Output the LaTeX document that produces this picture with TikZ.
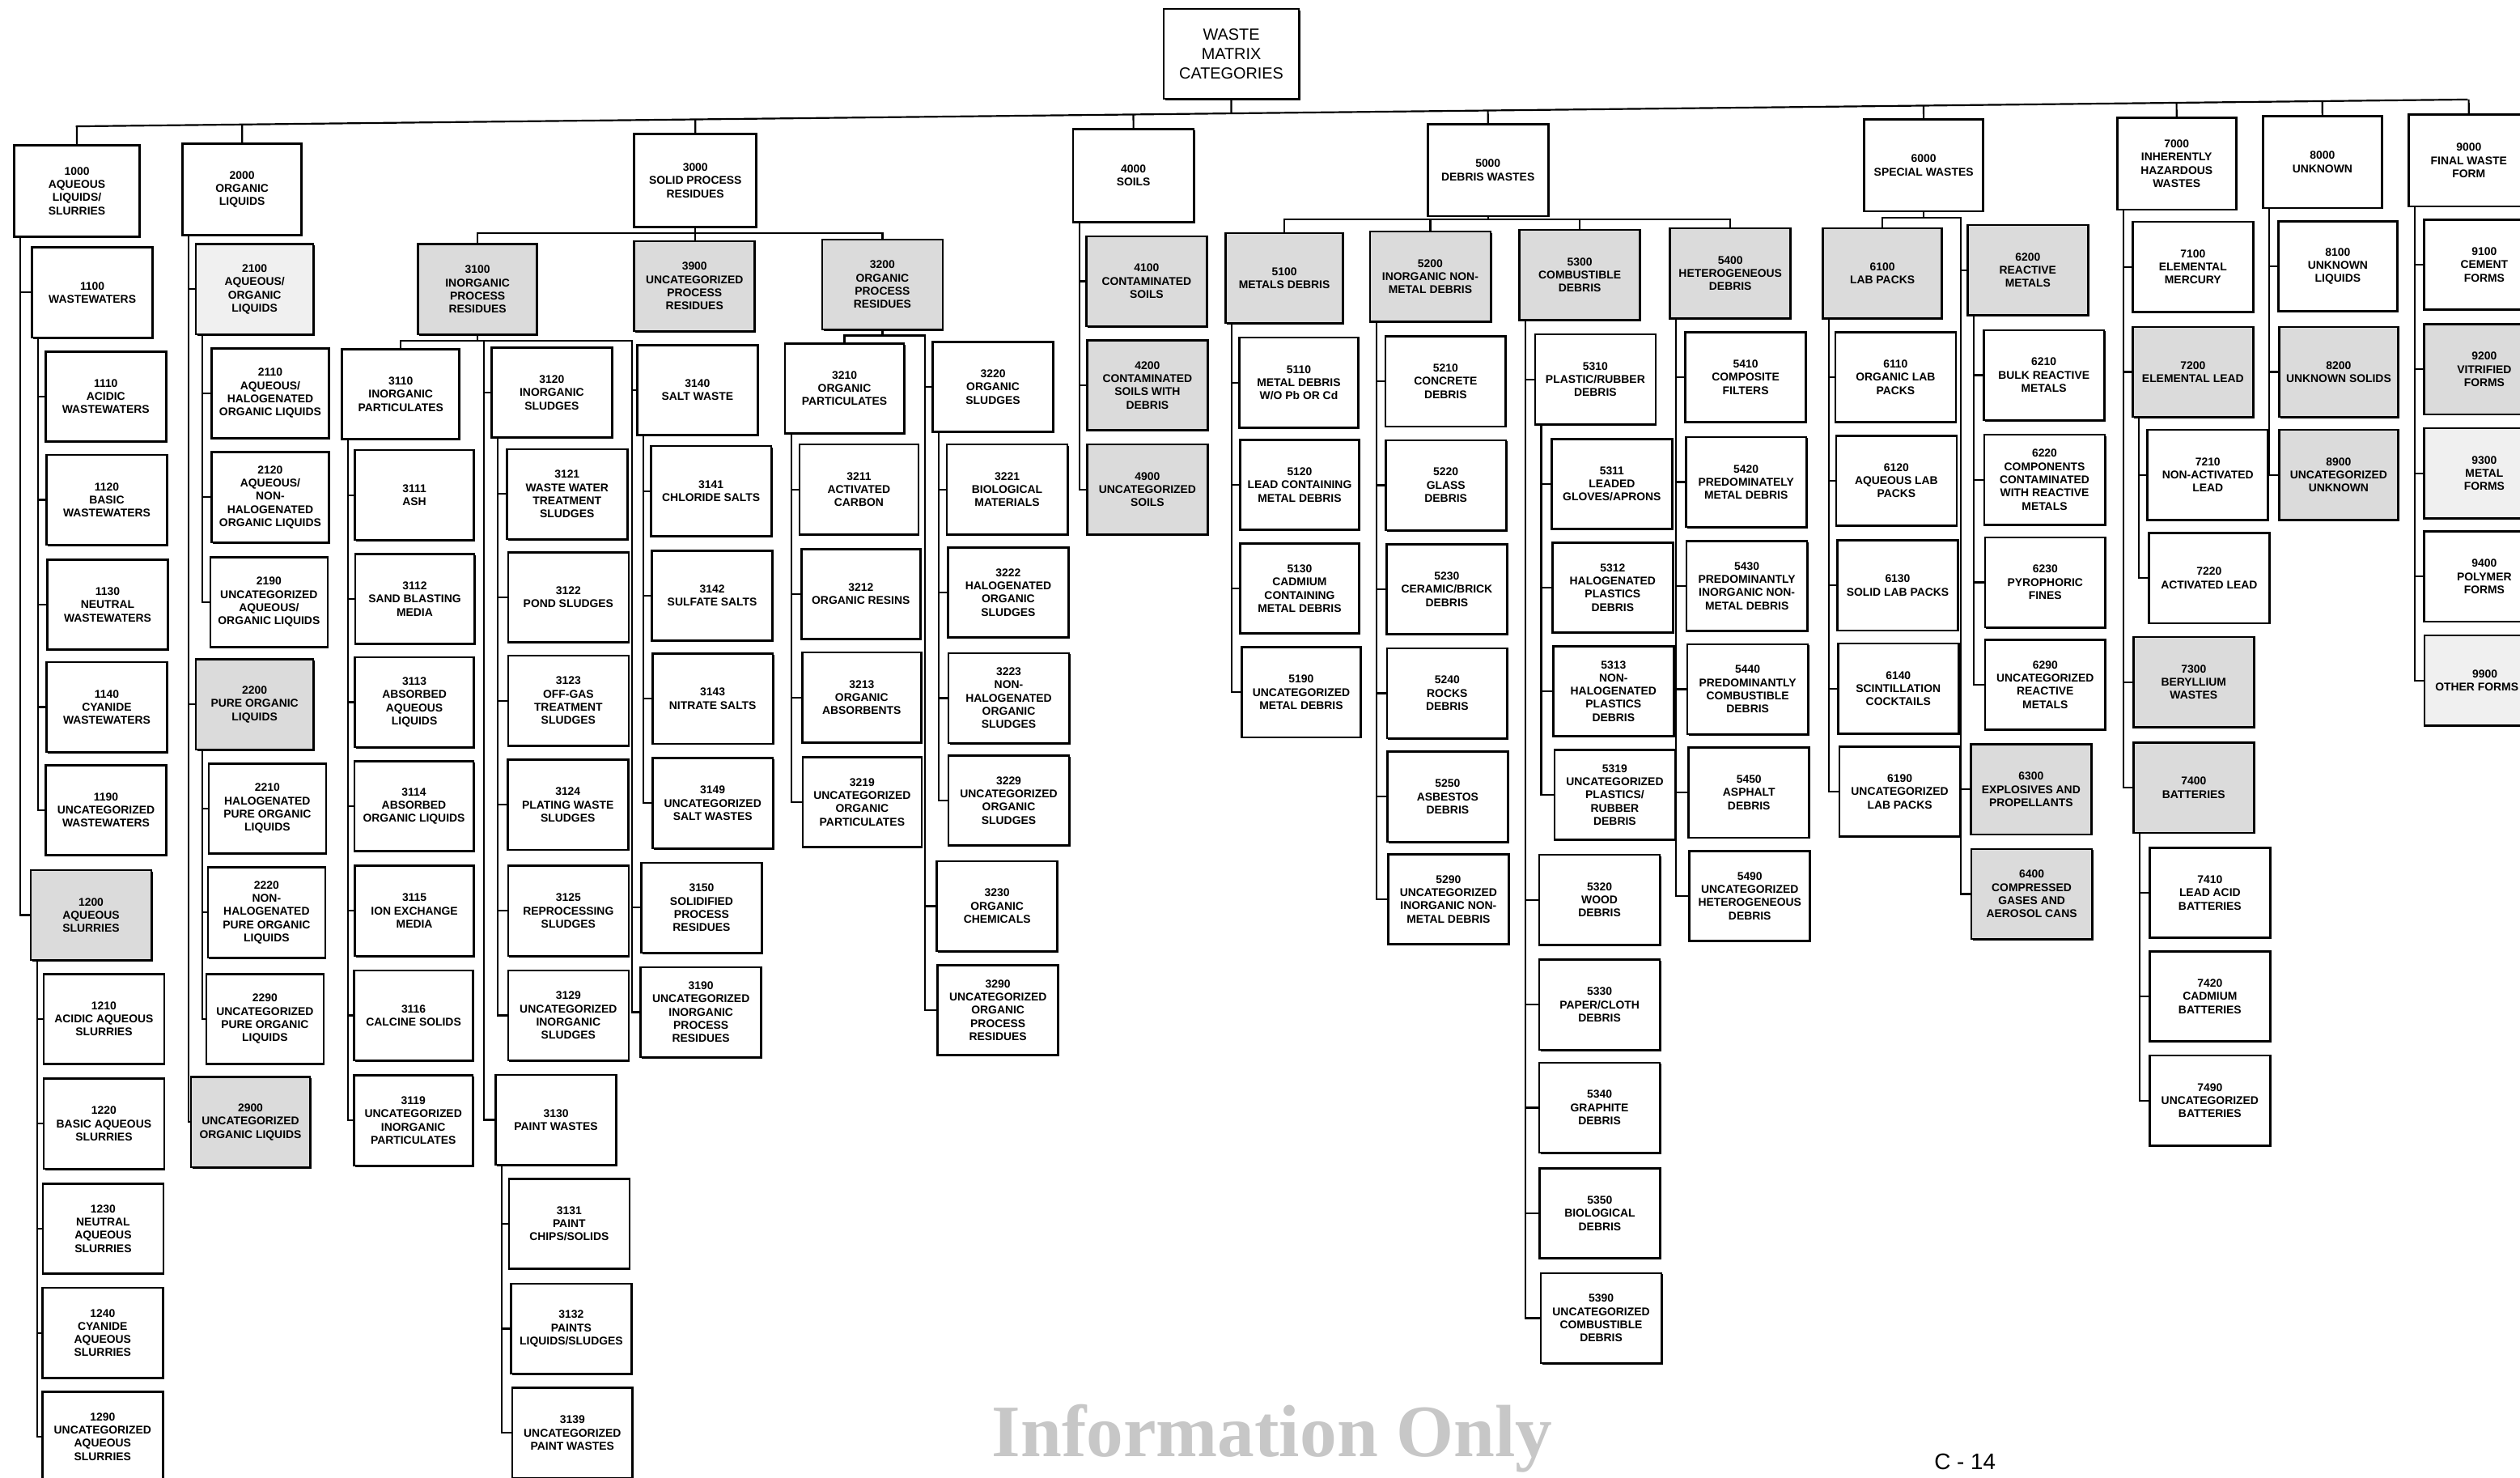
\documentclass[tikz,border=0pt]{standalone}
\usepackage{fontspec}
\setmainfont{Liberation Sans}
\newfontfamily\wmfont{Liberation Serif}
\usetikzlibrary{shadows}
\newcommand\boxfont{\fontsize{7}{8.2}\selectfont\bfseries}
\newcommand\SpineLink[2]{\draw[conn] ([xshift=4.5pt]n#1.south west) |- (n#2.west);}
\newcommand\TopDrop[1]{\draw[conn] (n#1.north) -- (intersection of n#1.north--n#1.south and busL--busR);}
\begin{document}
\begin{tikzpicture}[x=1pt,y=-1pt,
  box/.style={draw, line width=1.3pt, fill=white, minimum width=75pt, minimum height=56pt,
    inner sep=1pt, align=center, font=\boxfont, anchor=north west,
    drop shadow={shadow xshift=0.8pt, shadow yshift=-0.8pt, fill=black, opacity=1}},
  sbox/.style={box, fill=black!14},
  lbox/.style={box, fill=black!6},
  topbox/.style={box, minimum height=57pt},
  conn/.style={line width=1.1pt}]
\useasboundingbox (0,0) rectangle (1568,919);
\fill[white] (0,0) rectangle (1568,919);

% ---------- title ----------
\node[box, minimum width=84pt, minimum height=56pt, font=\fontsize{10}{12}\selectfont, line width=1.1pt] (ntitle) at (723.6,5) {WASTE\\MATRIX\\CATEGORIES};

% ---------- top level ----------
\node[topbox, minimum width=78pt] (n1000) at (8.2,89.6) {1000\\AQUEOUS\\LIQUIDS/\\SLURRIES};
\node[topbox, minimum width=74pt] (n2000) at (113,88.6) {2000\\ORGANIC\\LIQUIDS};
\node[topbox, minimum width=76pt, minimum height=58pt] (n3000) at (394,82.6) {3000\\SOLID PROCESS\\RESIDUES};
\node[topbox, minimum height=58pt] (n4000) at (667.1,79.6) {4000\\SOILS};
\node[topbox] (n5000) at (887.7,76.7) {5000\\DEBRIS WASTES};
\node[topbox, minimum width=74pt] (n6000) at (1159.3,73.7) {6000\\SPECIAL WASTES};
\node[topbox, minimum width=74pt] (n7000) at (1316.7,72.7) {7000\\INHERENTLY\\HAZARDOUS\\WASTES};
\node[topbox, minimum width=74pt] (n8000) at (1407.4,71.7) {8000\\UNKNOWN};
\node[topbox] (n9000) at (1498,70.7) {9000\\FINAL WASTE\\FORM};

% ---------- 1000 ----------
\node[box] (n1100) at (19.3,153.3) {1100\\WASTEWATERS};
\node[box] (n1110) at (27.7,218) {1110\\ACIDIC\\WASTEWATERS};
\node[box] (n1120) at (28.3,282.3) {1120\\BASIC\\WASTEWATERS};
\node[box] (n1130) at (28.8,347.5) {1130\\NEUTRAL\\WASTEWATERS};
\node[box] (n1140) at (28.3,411.2) {1140\\CYANIDE\\WASTEWATERS};
\node[box] (n1190) at (27.8,475.3) {1190\\UNCATEGORIZED\\WASTEWATERS};
\node[sbox] (n1200) at (18.5,540.6) {1200\\AQUEOUS\\SLURRIES};
\node[box] (n1210) at (26.5,605.2) {1210\\ACIDIC AQUEOUS\\SLURRIES};
\node[box] (n1220) at (26.5,670.4) {1220\\BASIC AQUEOUS\\SLURRIES};
\node[box] (n1230) at (26,735.7) {1230\\NEUTRAL\\AQUEOUS\\SLURRIES};
\node[box] (n1240) at (25.7,800.5) {1240\\CYANIDE\\AQUEOUS\\SLURRIES};
\node[box] (n1290) at (25.7,865.1) {1290\\UNCATEGORIZED\\AQUEOUS\\SLURRIES};

% ---------- 2000 ----------
\node[lbox, minimum width=73pt] (n2100) at (121.3,151.3) {2100\\AQUEOUS/\\ORGANIC\\LIQUIDS};
\node[box, minimum width=73pt] (n2110) at (131,216) {2110\\AQUEOUS/\\HALOGENATED\\ORGANIC LIQUIDS};
\node[box, minimum width=73pt] (n2120) at (131,280.7) {2120\\AQUEOUS/\\NON-\\HALOGENATED\\ORGANIC LIQUIDS};
\node[box, minimum width=73pt] (n2190) at (130.2,345.9) {2190\\UNCATEGORIZED\\AQUEOUS/\\ORGANIC LIQUIDS};
\node[sbox, minimum width=73pt] (n2200) at (121.3,409.6) {2200\\PURE ORGANIC\\LIQUIDS};
\node[box, minimum width=73pt] (n2210) at (129.2,474.3) {2210\\HALOGENATED\\PURE ORGANIC\\LIQUIDS};
\node[box, minimum width=73pt] (n2220) at (128.7,539) {2220\\NON-\\HALOGENATED\\PURE ORGANIC\\LIQUIDS};
\node[box, minimum width=73pt] (n2290) at (127.7,605.2) {2290\\UNCATEGORIZED\\PURE ORGANIC\\LIQUIDS};
\node[sbox, minimum width=74pt] (n2900) at (118.2,669.4) {2900\\UNCATEGORIZED\\ORGANIC LIQUIDS};

% ---------- 3100 ----------
\node[sbox, minimum width=74pt] (n3100) at (259.5,151.3) {3100\\INORGANIC\\PROCESS\\RESIDUES};
\node[box, minimum width=73pt] (n3110) at (212.2,216.6) {3110\\INORGANIC\\PARTICULATES};
\node[box, minimum width=74pt] (n3111) at (220.2,279.3) {3111\\ASH};
\node[box, minimum width=74pt] (n3112) at (220.4,343.9) {3112\\SAND BLASTING\\MEDIA};
\node[box, minimum width=74pt] (n3113) at (220.2,408.2) {3113\\ABSORBED\\AQUEOUS\\LIQUIDS};
\node[box, minimum width=74pt] (n3114) at (219.9,472.9) {3114\\ABSORBED\\ORGANIC LIQUIDS};
\node[box, minimum width=74pt] (n3115) at (220.2,538) {3115\\ION EXCHANGE\\MEDIA};
\node[box, minimum width=74pt] (n3116) at (219.7,603) {3116\\CALCINE SOLIDS};
\node[box, minimum width=74pt] (n3119) at (219.5,668.4) {3119\\UNCATEGORIZED\\INORGANIC\\PARTICULATES};
\node[box] (n3120) at (305.2,215.6) {3120\\INORGANIC\\SLUDGES};
\node[box] (n3121) at (314.7,278.7) {3121\\WASTE WATER\\TREATMENT\\SLUDGES};
\node[box] (n3122) at (315.5,342.9) {3122\\POND SLUDGES};
\node[box] (n3123) at (315.5,407.2) {3123\\OFF-GAS\\TREATMENT\\SLUDGES};
\node[box] (n3124) at (315.2,472) {3124\\PLATING WASTE\\SLUDGES};
\node[box] (n3125) at (315.5,538) {3125\\REPROCESSING\\SLUDGES};
\node[box] (n3129) at (315.5,603) {3129\\UNCATEGORIZED\\INORGANIC\\SLUDGES};
\node[box] (n3130) at (307.8,668) {3130\\PAINT WASTES};
\node[box] (n3131) at (316,732.6) {3131\\PAINT\\CHIPS/SOLIDS};
\node[box] (n3132) at (317.3,797.9) {3132\\PAINTS\\LIQUIDS/SLUDGES};
\node[box] (n3139) at (318,862.7) {3139\\UNCATEGORIZED\\PAINT WASTES};

% ---------- 3900 / 3140 ----------
\node[sbox] (n3900) at (394,149.3) {3900\\UNCATEGORIZED\\PROCESS\\RESIDUES};
\node[box] (n3140) at (395.8,214) {3140\\SALT WASTE};
\node[box] (n3141) at (404.3,276.8) {3141\\CHLORIDE SALTS};
\node[box] (n3142) at (405,341.9) {3142\\SULFATE SALTS};
\node[box] (n3143) at (405.3,406) {3143\\NITRATE SALTS};
\node[box] (n3149) at (405.3,471) {3149\\UNCATEGORIZED\\SALT WASTES};
\node[box] (n3150) at (398.4,536) {3150\\SOLIDIFIED\\PROCESS\\RESIDUES};
\node[box] (n3190) at (398,601) {3190\\UNCATEGORIZED\\INORGANIC\\PROCESS\\RESIDUES};

% ---------- 3200 ----------
\node[sbox] (n3200) at (510.9,148.3) {3200\\ORGANIC\\PROCESS\\RESIDUES};
\node[box, minimum width=74pt] (n3210) at (487.8,213) {3210\\ORGANIC\\PARTICULATES};
\node[box, minimum width=74pt] (n3211) at (496.8,275.8) {3211\\ACTIVATED\\CARBON};
\node[box, minimum width=74pt] (n3212) at (498,340.9) {3212\\ORGANIC RESINS};
\node[box, minimum width=74pt] (n3213) at (498.5,405.2) {3213\\ORGANIC\\ABSORBENTS};
\node[box, minimum width=74pt] (n3219) at (498.8,470.3) {3219\\UNCATEGORIZED\\ORGANIC\\PARTICULATES};
\node[box] (n3220) at (579.7,212) {3220\\ORGANIC\\SLUDGES};
\node[box] (n3221) at (588.5,275.8) {3221\\BIOLOGICAL\\MATERIALS};
\node[box] (n3222) at (589.2,339.9) {3222\\HALOGENATED\\ORGANIC\\SLUDGES};
\node[box] (n3223) at (589.5,405.6) {3223\\NON-\\HALOGENATED\\ORGANIC\\SLUDGES};
\node[box] (n3229) at (589.5,469.3) {3229\\UNCATEGORIZED\\ORGANIC\\SLUDGES};
\node[box] (n3230) at (582.3,535) {3230\\ORGANIC\\CHEMICALS};
\node[box] (n3290) at (582.8,599.8) {3290\\UNCATEGORIZED\\ORGANIC\\PROCESS\\RESIDUES};

% ---------- 4000 ----------
\node[sbox] (n4100) at (675.3,146.3) {4100\\CONTAMINATED\\SOILS};
\node[sbox] (n4200) at (675.8,211) {4200\\CONTAMINATED\\SOILS WITH\\DEBRIS};
\node[sbox] (n4900) at (675.8,275.8) {4900\\UNCATEGORIZED\\SOILS};

% ---------- 5000 ----------
\node[sbox, minimum width=73pt] (n5100) at (762,144.3) {5100\\METALS DEBRIS};
\node[box, minimum width=74pt] (n5110) at (770.5,209.4) {5110\\METAL DEBRIS\\W/O Pb OR Cd};
\node[box, minimum width=74pt] (n5120) at (771,273) {5120\\LEAD CONTAINING\\METAL DEBRIS};
\node[box, minimum width=74pt] (n5130) at (771,337.5) {5130\\CADMIUM\\CONTAINING\\METAL DEBRIS};
\node[box, minimum width=74pt] (n5190) at (772,402) {5190\\UNCATEGORIZED\\METAL DEBRIS};
\node[sbox] (n5200) at (851.8,143.4) {5200\\INORGANIC NON-\\METAL DEBRIS};
\node[box] (n5210) at (861.3,208.6) {5210\\CONCRETE\\DEBRIS};
\node[box] (n5220) at (861.5,273.2) {5220\\GLASS\\DEBRIS};
\node[box] (n5230) at (862.1,337.9) {5230\\CERAMIC/BRICK\\DEBRIS};
\node[box] (n5240) at (862.3,402.6) {5240\\ROCKS\\DEBRIS};
\node[box] (n5250) at (862.6,467) {5250\\ASBESTOS\\DEBRIS};
\node[box] (n5290) at (863.1,530.7) {5290\\UNCATEGORIZED\\INORGANIC NON-\\METAL DEBRIS};
\node[sbox] (n5300) at (944.8,142.4) {5300\\COMBUSTIBLE\\DEBRIS};
\node[box] (n5310) at (954.5,207.4) {5310\\PLASTIC/RUBBER\\DEBRIS};
\node[box] (n5311) at (964.8,272.4) {5311\\LEADED\\GLOVES/APRONS};
\node[box] (n5312) at (965.3,336.9) {5312\\HALOGENATED\\PLASTICS\\DEBRIS};
\node[box] (n5313) at (965.8,401.3) {5313\\NON-\\HALOGENATED\\PLASTICS\\DEBRIS};
\node[box] (n5319) at (966.6,465.8) {5319\\UNCATEGORIZED\\PLASTICS/\\RUBBER\\DEBRIS};
\node[box] (n5320) at (957.1,531.1) {5320\\WOOD\\DEBRIS};
\node[box] (n5330) at (957.1,596.4) {5330\\PAPER/CLOTH\\DEBRIS};
\node[box] (n5340) at (957.1,660.4) {5340\\GRAPHITE\\DEBRIS};
\node[box] (n5350) at (957.3,726.2) {5350\\BIOLOGICAL\\DEBRIS};
\node[box] (n5390) at (958.1,791.3) {5390\\UNCATEGORIZED\\COMBUSTIBLE\\DEBRIS};
\node[sbox] (n5400) at (1038.5,141.4) {5400\\HETEROGENEOUS\\DEBRIS};
\node[box] (n5410) at (1048,206) {5410\\COMPOSITE\\FILTERS};
\node[box] (n5420) at (1048.3,271.2) {5420\\PREDOMINATELY\\METAL DEBRIS};
\node[box] (n5430) at (1048.8,335.9) {5430\\PREDOMINANTLY\\INORGANIC NON-\\METAL DEBRIS};
\node[box] (n5440) at (1049.3,400.1) {5440\\PREDOMINANTLY\\COMBUSTIBLE\\DEBRIS};
\node[box] (n5450) at (1050.1,464.4) {5450\\ASPHALT\\DEBRIS};
\node[box] (n5490) at (1050.6,528.7) {5490\\UNCATEGORIZED\\HETEROGENEOUS\\DEBRIS};

% ---------- 6000 ----------
\node[sbox, minimum width=74pt] (n6100) at (1133.6,141.4) {6100\\LAB PACKS};
\node[box] (n6110) at (1141.3,206) {6110\\ORGANIC LAB\\PACKS};
\node[box] (n6120) at (1141.8,270.4) {6120\\AQUEOUS LAB\\PACKS};
\node[box] (n6130) at (1142.6,335.5) {6130\\SOLID LAB PACKS};
\node[box] (n6140) at (1143,399.7) {6140\\SCINTILLATION\\COCKTAILS};
\node[box] (n6190) at (1143.9,463.8) {6190\\UNCATEGORIZED\\LAB PACKS};
\node[sbox] (n6200) at (1223.6,139.4) {6200\\REACTIVE\\METALS};
\node[box] (n6210) at (1233.6,204.7) {6210\\BULK REACTIVE\\METALS};
\node[box] (n6220) at (1234,269.8) {6220\\COMPONENTS\\CONTAMINATED\\WITH REACTIVE\\METALS};
\node[box] (n6230) at (1234.4,333.6) {6230\\PYROPHORIC\\FINES};
\node[box] (n6290) at (1234.4,397.3) {6290\\UNCATEGORIZED\\REACTIVE\\METALS};
\node[sbox] (n6300) at (1225.6,462.4) {6300\\EXPLOSIVES AND\\PROPELLANTS};
\node[sbox] (n6400) at (1226,527.5) {6400\\COMPRESSED\\GASES AND\\AEROSOL CANS};

% ---------- 7000 ----------
\node[box] (n7100) at (1326.3,137.4) {7100\\ELEMENTAL\\MERCURY};
\node[sbox] (n7200) at (1326.3,202.7) {7200\\ELEMENTAL LEAD};
\node[box] (n7210) at (1335.6,266.8) {7210\\NON-ACTIVATED\\LEAD};
\node[box] (n7220) at (1336.4,331) {7220\\ACTIVATED LEAD};
\node[sbox] (n7300) at (1326.8,395.7) {7300\\BERYLLIUM\\WASTES};
\node[sbox] (n7400) at (1326.8,461.4) {7400\\BATTERIES};
\node[box] (n7410) at (1336.9,526.7) {7410\\LEAD ACID\\BATTERIES};
\node[box] (n7420) at (1336.9,591.2) {7420\\CADMIUM\\BATTERIES};
\node[box] (n7490) at (1336.9,656) {7490\\UNCATEGORIZED\\BATTERIES};

% ---------- 8000 ----------
\node[box, minimum width=74pt] (n8100) at (1417,137) {8100\\UNKNOWN\\LIQUIDS};
\node[sbox, minimum width=74pt] (n8200) at (1417.5,202.7) {8200\\UNKNOWN SOLIDS};
\node[sbox, minimum width=74pt] (n8900) at (1417.5,266.8) {8900\\UNCATEGORIZED\\UNKNOWN};

% ---------- 9000 ----------
\node[box] (n9100) at (1507.6,136) {9100\\CEMENT\\FORMS};
\node[sbox] (n9200) at (1507.6,201.1) {9200\\VITRIFIED\\FORMS};
\node[lbox] (n9300) at (1507.6,265.8) {9300\\METAL\\FORMS};
\node[box] (n9400) at (1507.6,330) {9400\\POLYMER\\FORMS};
\node[lbox] (n9900) at (1508,394.7) {9900\\OTHER FORMS\hspace*{10pt}};

% ---------- main bus ----------
\coordinate (busL) at (47.2,78.6);
\coordinate (busR) at (1535.5,61.9);
\draw[conn] (busL) -- (busR);
\draw[conn] (ntitle.south) -- (intersection of ntitle.north--ntitle.south and busL--busR);
\foreach \t in {1000,2000,3000,4000,5000,6000,7000,8000,9000} {\TopDrop{\t}}

% ---------- spines ----------
\foreach \c in {1100,1200} {\SpineLink{1000}{\c}}
\foreach \c in {1110,1120,1130,1140,1190} {\SpineLink{1100}{\c}}
\foreach \c in {1210,1220,1230,1240,1290} {\SpineLink{1200}{\c}}
\foreach \c in {2100,2200,2900} {\SpineLink{2000}{\c}}
\foreach \c in {2110,2120,2190} {\SpineLink{2100}{\c}}
\foreach \c in {2210,2220,2290} {\SpineLink{2200}{\c}}
\foreach \c in {3111,3112,3113,3114,3115,3116,3119} {\SpineLink{3110}{\c}}
\foreach \c in {3121,3122,3123,3124,3125,3129} {\SpineLink{3120}{\c}}
\foreach \c in {3131,3132,3139} {\SpineLink{3130}{\c}}
\foreach \c in {3141,3142,3143,3149} {\SpineLink{3140}{\c}}
\foreach \c in {3211,3212,3213,3219} {\SpineLink{3210}{\c}}
\foreach \c in {3221,3222,3223,3229} {\SpineLink{3220}{\c}}
\foreach \c in {4100,4200,4900} {\SpineLink{4000}{\c}}
\foreach \c in {5110,5120,5130,5190} {\SpineLink{5100}{\c}}
\foreach \c in {5210,5220,5230,5240,5250,5290} {\SpineLink{5200}{\c}}
\foreach \c in {5310,5320,5330,5340,5350,5390} {\SpineLink{5300}{\c}}
\foreach \c in {5311,5312,5313,5319} {\SpineLink{5310}{\c}}
\foreach \c in {5410,5420,5430,5440,5450,5490} {\SpineLink{5400}{\c}}
\foreach \c in {6110,6120,6130,6140,6190} {\SpineLink{6100}{\c}}
\foreach \c in {6210,6220,6230,6290} {\SpineLink{6200}{\c}}
\foreach \c in {7100,7200,7300,7400} {\SpineLink{7000}{\c}}
\foreach \c in {7210,7220} {\SpineLink{7200}{\c}}
\foreach \c in {7410,7420,7490} {\SpineLink{7400}{\c}}
\foreach \c in {8100,8200,8900} {\SpineLink{8000}{\c}}
\foreach \c in {9100,9200,9300,9400,9900} {\SpineLink{9000}{\c}}

% ---------- sub buses ----------
\coordinate (b3000) at (0,145);
\draw[conn] (n3000.south) -- (n3000.south |- n3900.north);
\draw[conn] (n3000.south) |- (b3000 -| n3100.north) -- (n3100.north);
\draw[conn] (n3000.south) |- (b3000 -| n3200.north) -- (n3200.north);

\coordinate (b3100) at (0,212);
\coordinate (s3100a) at (301,0);
\coordinate (s3100b) at (393.3,0);
\draw[conn] (n3100.south) |- (b3100 -| n3110.north) -- (n3110.north);
\foreach \c in {3120,3130} {\draw[conn] (n3100.south) |- (b3100 -| s3100a) |- (n\c.west);}
\foreach \c in {3140,3150,3190} {\draw[conn] (n3100.south) |- (b3100 -| s3100b) |- (n\c.west);}

\coordinate (b3200) at (0,208.7);
\coordinate (s3200) at (575.6,0);
\draw[conn] (n3200.south) |- (b3200 -| n3210.north) -- (n3210.north);
\foreach \c in {3220,3230,3290} {\draw[conn] (n3200.south) |- (b3200 -| s3200) |- (n\c.west);}

\coordinate (b5000) at (0,136.6);
\foreach \c in {5100,5200,5300,5400} {\draw[conn] (n5000.south) |- (b5000 -| n\c.north) -- (n\c.north);}

\coordinate (b6000) at (0,135.4);
\coordinate (s6000) at (1220,0);
\draw[conn] (n6000.south) |- (b6000 -| n6100.north) -- (n6100.north);
\foreach \c in {6200,6300,6400} {\draw[conn] (n6000.south) |- (b6000 -| s6000) |- (n\c.west);}

% ---------- page marks ----------
\node[anchor=base west, inner sep=0, text=black!22, font=\wmfont\bfseries\fontsize{46}{46}\selectfont] (wm) at (617,906) {Information Only};
\node[anchor=base west, inner sep=0, font=\fontsize{14}{14}\selectfont] (pg) at (1203.4,914) {C - 14};
\end{tikzpicture}
\end{document}
